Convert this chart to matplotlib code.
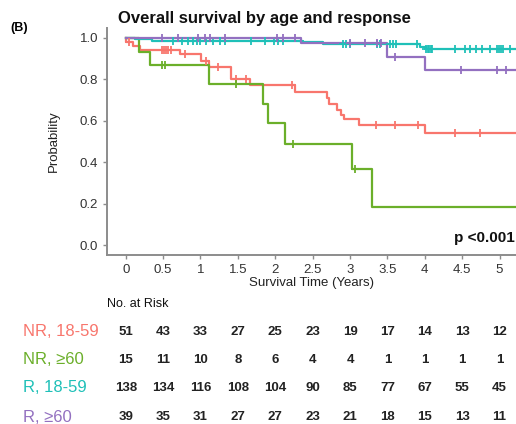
import numpy as np
import matplotlib
matplotlib.use("Agg")
import matplotlib.pyplot as plt
import matplotlib.transforms as mtransforms

plt.rcParams['font.family'] = ['Liberation Sans', 'DejaVu Sans']

# Kaplan-Meier step data (time in years, survival after the drop)
nr_young_t = [0, 0.01, 0.10, 0.19, 0.72, 1.01, 1.11, 1.41, 1.66, 2.26, 2.69, 2.72, 2.82, 2.88, 2.92, 3.12, 4.00]
nr_young_s = [1.0, 0.980, 0.961, 0.941, 0.921, 0.89, 0.86, 0.80, 0.773, 0.739, 0.71, 0.68, 0.65, 0.63, 0.61, 0.578, 0.542]
nr_young_cens = [0.05, 0.48, 0.51, 0.54, 0.57, 0.60, 0.79, 1.08, 1.24, 1.48, 1.61, 2.22, 3.35, 3.60, 3.91, 4.40, 4.74]

nr_old_t = [0, 0.18, 0.32, 1.12, 1.84, 1.90, 2.13, 3.02, 3.29]
nr_old_s = [1.0, 0.933, 0.867, 0.778, 0.68, 0.587, 0.489, 0.367, 0.186]
nr_old_cens = [0.48, 0.52, 1.48, 2.24, 3.07]

r_young_t = [0, 0.12, 0.35, 2.37, 2.64, 3.93, 4.01]
r_young_s = [1.0, 0.993, 0.986, 0.978, 0.970, 0.955, 0.945]
r_young_cens = [0.63, 0.75, 0.83, 0.90, 0.95, 0.99, 1.08, 1.17, 1.26, 1.33, 1.68, 1.86, 1.99, 2.04, 2.10,
                2.90, 2.95, 3.00, 3.36, 3.40, 3.54, 3.58, 3.62, 3.89, 4.02, 4.04, 4.06, 4.08, 4.10,
                4.40, 4.54, 4.60, 4.69, 4.76, 4.87, 4.96, 4.99, 5.02, 5.05, 5.14]

r_old_t = [0, 2.35, 3.49, 4.00]
r_old_s = [1.0, 0.974, 0.906, 0.845]
r_old_cens = [0.48, 0.70, 0.97, 1.06, 1.13, 1.33, 2.02, 2.10, 2.26, 3.00, 3.20, 3.36, 3.42, 3.60, 4.49, 4.96, 5.09]

group_labels = ['NR, 18-59', 'NR, ≥60', 'R, 18-59', 'R, ≥60']
group_colors = ['#F8766D', '#6BAF2A', '#1FC0B8', '#9370C0']

risk_times = [0, 0.5, 1, 1.5, 2, 2.5, 3, 3.5, 4, 4.5, 5]
risk_nr_young = [51, 43, 33, 27, 25, 23, 19, 17, 14, 13, 12]
risk_nr_old = [15, 11, 10, 8, 6, 4, 4, 1, 1, 1, 1]
risk_r_young = [138, 134, 116, 108, 104, 90, 85, 77, 67, 55, 45]
risk_r_old = [39, 35, 31, 27, 27, 23, 21, 18, 15, 13, 11]

curves = [
    (nr_young_t, nr_young_s, nr_young_cens),
    (nr_old_t, nr_old_s, nr_old_cens),
    (r_young_t, r_young_s, r_young_cens),
    (r_old_t, r_old_s, r_old_cens),
]
risk_rows = [risk_nr_young, risk_nr_old, risk_r_young, risk_r_old]

W, H = 516, 424
fig = plt.figure(figsize=(W / 100, H / 100), dpi=100)
ax = fig.add_axes([107 / W, 1 - 255 / H, 1 - 107 / W, (255 - 28) / H])

x_end = 5.3
for (t, s, cens), col in zip(curves, group_colors):
    tt = list(t) + [x_end]
    ss = list(s) + [s[-1]]
    ax.step(tt, ss, where='post', color=col, lw=1.6, zorder=3)
    idx = np.searchsorted(t, cens, side='right') - 1
    ax.plot(cens, np.array(s)[idx], ls='none', marker='+', ms=6, mew=1.3, color=col, zorder=4)

ax.set_xlim(-0.25, 5.22)
ax.set_ylim(-0.048, 1.048)
ax.set_xticks(risk_times)
ax.set_xticklabels(['0', '0.5', '1', '1.5', '2', '2.5', '3', '3.5', '4', '4.5', '5'])
ax.set_yticks([0, 0.2, 0.4, 0.6, 0.8, 1.0])
ax.set_yticklabels(['0.0', '0.2', '0.4', '0.6', '0.8', '1.0'])
for sp in ['top', 'right']:
    ax.spines[sp].set_visible(False)
for sp in ['left', 'bottom']:
    ax.spines[sp].set_color('#8c8c8c')
    ax.spines[sp].set_linewidth(1.4)
ax.tick_params(colors='#8c8c8c', length=3, width=1, labelcolor='#333333', labelsize=9.5)

ax.set_xlabel('Survival Time (Years)', fontsize=9.5, color='#222222', labelpad=1)
ax.set_ylabel('Probability', fontsize=9.5, color='#222222', labelpad=14)
ax.text(1.0, 0.0, 'p <0.001', transform=ax.transData, fontsize=11, fontweight='bold',
        ha='right', va='bottom', color='#111111')
ax.texts[-1].set_position((5.2, 0.0))

fig.text(118 / W, 1 - 18 / H, 'Overall survival by age and response', fontsize=12,
         fontweight='bold', ha='left', va='center', color='#111111')
fig.text(10 / W, 1 - 28 / H, '(B)', fontsize=9, fontweight='bold', ha='left', va='center')

# number at risk table
fig.text(107 / W, 1 - 304 / H, 'No. at Risk', fontsize=9, ha='left', va='center', color='#111111')
trans = mtransforms.blended_transform_factory(ax.transData, fig.transFigure)
row_y = [332, 360, 388, 417]
for lab, col, row, yy in zip(group_labels, group_colors, risk_rows, row_y):
    fig.text(23 / W, 1 - yy / H, lab, fontsize=12, color=col, ha='left', va='center')
    for tx, n in zip(risk_times, row):
        ax.text(tx, 1 - yy / H, str(n), transform=trans, fontsize=9.5, fontweight='bold',
                ha='center', va='center', color='#222222', clip_on=False)

fig.savefig('out.png', dpi=100)
